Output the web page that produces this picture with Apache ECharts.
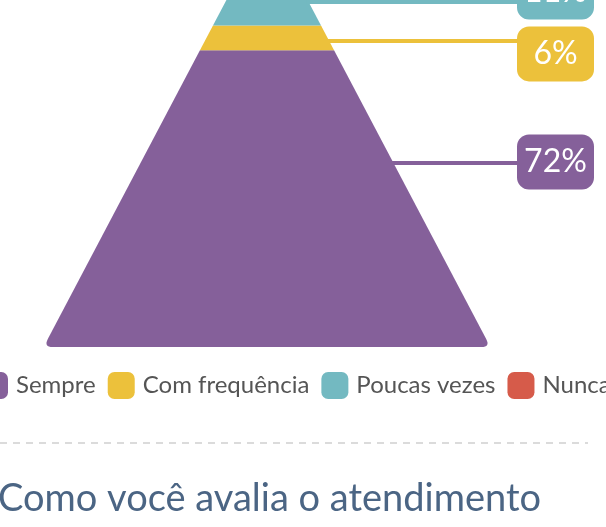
<!DOCTYPE html>
<html>
<head>
<meta charset="utf-8">
<script src="https://cdn.jsdelivr.net/npm/echarts@6/dist/echarts.min.js"></script>
<style>
  html, body { margin: 0; padding: 0; background: #fff; }
  #main { width: 606px; height: 527px; }
</style>
</head>
<body>
<div id="main"></div>
<script>
const categories = ['Sempre', 'Com frequência', 'Poucas vezes', 'Nunca']
const percents = [72, 6, 11, 11]
const titleText = 'Como você avalia o atendimento'

const colors = ['#85609a', '#ecc13b', '#73b9c1', '#d65b4a']
// where the leader line leaves each slice (share of slice height) and how far the box sits off it
const anchorAt = [0.62, 0.38, 0.52, 0.5]
const boxShift = [-1, 13, -10, -8]
const tipHalf = 0.028 // the tip is a little flat

// cumulative start of each slice, from the base up
const starts = []
percents.reduce((acc, v) => { starts.push(acc); return acc + v }, 0)

function half(p) {
  return tipHalf + (1 - tipHalf) * (1 - p / 100)
}

function unit(a, b) {
  const dx = b[0] - a[0]
  const dy = b[1] - a[1]
  const l = Math.sqrt(dx * dx + dy * dy)
  return [dx / l, dy / l]
}

// quadratic corner, as points
function corner(from, ctrl, to) {
  const pts = []
  for (let k = 0; k <= 8; k++) {
    const t = k / 8
    const a = (1 - t) * (1 - t)
    const b = 2 * t * (1 - t)
    const c = t * t
    pts.push([a * from[0] + b * ctrl[0] + c * to[0], a * from[1] + b * ctrl[1] + c * to[1]])
  }
  return pts
}

function renderSlice(i) {
  return function(params, api) {
    const lo = api.value(0)
    const hi = api.value(1)
    const bl = api.coord([-half(lo), lo])
    const br = api.coord([half(lo), lo])
    const tr = api.coord([half(hi), hi])
    const tl = api.coord([-half(hi), hi])
    const children = []
    let points
    if (lo === 0) {
      // base has rounded corners
      const r = 9
      const u = unit(br, tr)
      const v = unit(bl, tl)
      points = [tl, tr]
        .concat(corner([br[0] + u[0] * r, br[1] + u[1] * r], br, [br[0] - r, br[1]]))
        .concat(corner([bl[0] + r, bl[1]], bl, [bl[0] + v[0] * r, bl[1] + v[1] * r]))
    } else {
      points = [bl, br, tr, tl]
    }
    children.push({ type: 'polygon', shape: { points }, style: { fill: colors[i] }})

    // leader line + label box
    const p = lo + anchorAt[i] * (hi - lo)
    const a = api.coord([half(p), p])
    const boxX = 517
    const boxW = 77
    const boxH = 55
    const cy = a[1] + boxShift[i]
    children.push({
      type: 'line',
      shape: { x1: a[0] - 2, y1: a[1], x2: boxX + 10, y2: a[1] },
      style: { stroke: colors[i], lineWidth: 4 }
    })
    children.push({
      type: 'rect',
      shape: { x: boxX, y: cy - boxH / 2, width: boxW, height: boxH, r: 12 },
      style: { fill: colors[i] }
    })
    children.push({
      type: 'text',
      style: {
        x: boxX + boxW / 2,
        y: cy,
        text: api.value(2) + '%',
        fill: '#fff',
        font: '32px Lato',
        align: 'center',
        verticalAlign: 'middle'
      }
    })
    return { type: 'group', children }
  }
}

const chart = echarts.init(document.getElementById('main'))
const option = {
  animation: false,
  color: colors,
  // the picture is a crop: only the lower part of the pyramid is in view
  grid: { left: 43.6, right: 115.6, top: 0, bottom: 180 },
  xAxis: { type: 'value', min: -1, max: 1, show: false },
  yAxis: { type: 'value', min: 0, max: 84.2, show: false },
  legend: {
    data: categories,
    left: -19,
    top: 372,
    width: 900,
    padding: 0,
    itemGap: 12,
    itemWidth: 27,
    itemHeight: 27,
    icon: 'roundRect',
    selectedMode: false,
    textStyle: { fontFamily: 'Lato', fontSize: 24, color: '#555', padding: [0, 0, 0, 3] }
  },
  graphic: [
    {
      type: 'line',
      shape: { x1: 0, y1: 443, x2: 588, y2: 443 },
      style: { stroke: '#cfcfcf', lineWidth: 1.5, lineDash: [7, 6] }
    },
    {
      type: 'text',
      style: {
        x: -2,
        y: 499,
        text: titleText,
        font: '38px Lato',
        fill: '#4b6584',
        verticalAlign: 'middle'
      }
    }
  ],
  series: categories.map((name, i) => ({
    name,
    type: 'custom',
    coordinateSystem: 'cartesian2d',
    renderItem: renderSlice(i),
    data: [[starts[i], starts[i] + percents[i], percents[i]]],
    silent: true
  }))
}
chart.setOption(option)
</script>
</body>
</html>
